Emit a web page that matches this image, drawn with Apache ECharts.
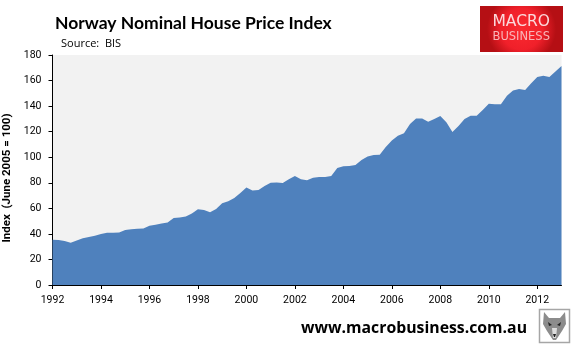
<!DOCTYPE html>
<html><head><meta charset="utf-8">
<style>html,body{margin:0;padding:0;background:#fff}#c{width:581px;height:351px}</style>
<script src="https://cdn.jsdelivr.net/npm/echarts@6/dist/echarts.min.js"></script>
</head><body><div id="c"></div>
<script>
const chartTitle = "Norway Nominal House Price Index";
const sourceNote = "Source:  BIS";
const yAxisTitle = "Index  (June 2005 = 100)";
const siteUrl = "www.macrobusiness.com.au";
const quarters = [
 "1992Q1","1992Q2","1992Q3","1992Q4","1993Q1","1993Q2","1993Q3","1993Q4",
 "1994Q1","1994Q2","1994Q3","1994Q4","1995Q1","1995Q2","1995Q3","1995Q4",
 "1996Q1","1996Q2","1996Q3","1996Q4","1997Q1","1997Q2","1997Q3","1997Q4",
 "1998Q1","1998Q2","1998Q3","1998Q4","1999Q1","1999Q2","1999Q3","1999Q4",
 "2000Q1","2000Q2","2000Q3","2000Q4","2001Q1","2001Q2","2001Q3","2001Q4",
 "2002Q1","2002Q2","2002Q3","2002Q4","2003Q1","2003Q2","2003Q3","2003Q4",
 "2004Q1","2004Q2","2004Q3","2004Q4","2005Q1","2005Q2","2005Q3","2005Q4",
 "2006Q1","2006Q2","2006Q3","2006Q4","2007Q1","2007Q2","2007Q3","2007Q4",
 "2008Q1","2008Q2","2008Q3","2008Q4","2009Q1","2009Q2","2009Q3","2009Q4",
 "2010Q1","2010Q2","2010Q3","2010Q4","2011Q1","2011Q2","2011Q3","2011Q4",
 "2012Q1","2012Q2","2012Q3","2012Q4","2013Q1"];
const priceIndex = [
 35.5,35.3,34.4,33.1, 34.9,36.5,37.5,38.6,
 39.9,40.9,40.9,41, 43,43.6,44,44.3,
 46.4,47.2,48.2,49, 52.4,52.8,53.7,56,
 59.2,58.7,57,59.5, 63.9,65.5,68,72,
 76.4,74,74.3,77.5, 80,80.2,79.8,82.7,
 85.3,82.7,82,84, 84.5,84.5,85.3,91.5,
 93,93.2,94,97.8, 100.6,101.7,102,108,
 113,116.8,118.7,126, 130.4,130.4,127.8,130,
 132.2,127.3,119.7,124.4, 129.9,132.5,132.5,137,
 141.9,141.4,141.4,148.2, 152.3,153.4,152.6,157.9,
 162.8,163.8,162.8,167, 171.4];

const FONT = "Roboto";
const chart = echarts.init(document.getElementById('c'), null, {renderer:'canvas'});
chart.setOption({
  animation:false,
  backgroundColor:'#fff',
  title:{text:chartTitle,left:55,top:14,padding:0,
    textStyle:{fontFamily:'Lato',fontWeight:'bold',fontSize:17.5,color:'#000'}},
  grid:{left:52.5,right:19.5,top:55,bottom:66,show:true,backgroundColor:'#F2F2F2',borderWidth:0,outerBoundsMode:'none'},
  xAxis:{type:'category',data:quarters,boundaryGap:false,
    axisLine:{lineStyle:{color:'#000',width:1}},
    axisTick:{interval:7,length:4,lineStyle:{color:'#000'}},
    axisLabel:{interval:7,margin:10,color:'#000',fontFamily:FONT,fontSize:10.5,
      formatter:v=>v.slice(0,4)},
    splitLine:{show:false}},
  yAxis:{type:'value',min:0,max:180,interval:20,
    name:yAxisTitle,nameLocation:'middle',nameGap:33,
    nameTextStyle:{color:'#000',fontFamily:FONT,fontWeight:'bold',fontSize:11.5,padding:[0,0,0,-16]},
    axisLine:{show:true,lineStyle:{color:'#000',width:1}},
    axisTick:{show:true,length:4,lineStyle:{color:'#000'}},
    axisLabel:{margin:11,color:'#000',fontFamily:FONT,fontSize:10.5},
    splitLine:{show:false}},
  series:[{type:'line',data:priceIndex,symbol:'none',smooth:false,
    lineStyle:{width:0},areaStyle:{color:'#4F81BD',opacity:1},z:1}],
  graphic:[
    {type:'text',left:61,top:38,style:{text:sourceNote,fill:'#000',font:'11px Open Sans'}},
    {type:'text',left:301,top:320,style:{text:siteUrl,fill:'#000',font:'bold 15.8px Open Sans'}},
    {type:'rect',shape:{x:480,y:6,width:83,height:46},
      style:{fill:new echarts.graphic.RadialGradient(.5,.5,.75,[{offset:0,color:'#FA2A30'},{offset:.6,color:'#F0202A'},{offset:1,color:'#B50F14'}])}},
    {type:'text',left:492.5,top:14,style:{text:'MACRO',fill:'#FBDADC',font:'15.5px DejaVu Sans'}},
    {type:'text',left:492.5,top:31,style:{text:'BUSINESS',fill:'#F9B5B8',font:'11.5px DejaVu Sans'}},
    {type:'group',children:[
      {type:'rect',shape:{x:539.5,y:309.5,width:30,height:33},style:{fill:'#fff',stroke:'#A6A6A6',lineWidth:1.5}},
      {type:'polygon',shape:{points:[[544,312],[549,318],[560,318],[565,312],[566,324],[562,331],[556,340],[553,340],[547,331],[543,324]]},style:{fill:'#8C8C8C'}},
      {type:'polygon',shape:{points:[[548,322],[552,325],[549,326]]},style:{fill:'#222'}},
      {type:'polygon',shape:{points:[[561,322],[557,325],[560,326]]},style:{fill:'#222'}},
      {type:'polygon',shape:{points:[[552,328],[557,328],[556,338],[553,338]]},style:{fill:'#DDD'}},
      {type:'polygon',shape:{points:[[553,334],[556,334],[555,337],[554,337]]},style:{fill:'#222'}}
    ]}
  ]
});
</script></body></html>
